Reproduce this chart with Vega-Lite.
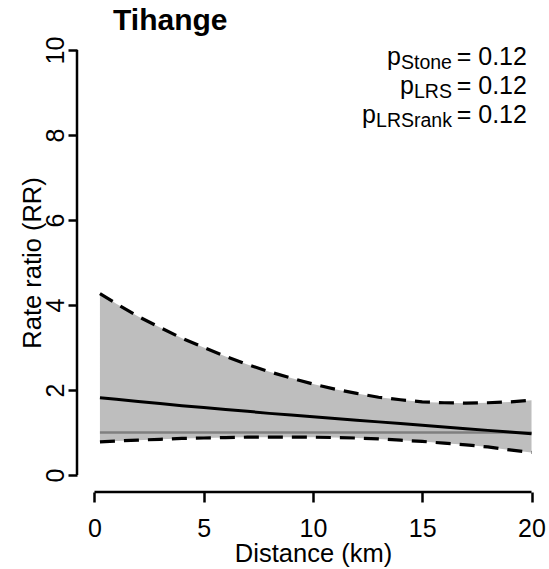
{
  "$schema": "https://vega.github.io/schema/vega-lite/v6.json",
  "width": 472,
  "height": 459,
  "autosize": {"type": "none"},
  "padding": {"left": 77, "top": 33, "right": 0, "bottom": 77},
  "background": "white",
  "config": {
    "view": {"stroke": null},
    "font": "Liberation Sans",
    "axis": {"grid": false}
  },
  "data": {
    "values": [
      {"x": 0.25, "est": 1.82, "lo": 0.78, "hi": 4.27},
      {"x": 1, "est": 1.78, "lo": 0.80, "hi": 4.03},
      {"x": 2, "est": 1.73, "lo": 0.82, "hi": 3.73},
      {"x": 3, "est": 1.68, "lo": 0.84, "hi": 3.47},
      {"x": 4, "est": 1.63, "lo": 0.86, "hi": 3.22},
      {"x": 5, "est": 1.59, "lo": 0.87, "hi": 3.00},
      {"x": 6, "est": 1.54, "lo": 0.88, "hi": 2.79},
      {"x": 7, "est": 1.50, "lo": 0.89, "hi": 2.60},
      {"x": 8, "est": 1.45, "lo": 0.89, "hi": 2.43},
      {"x": 9, "est": 1.41, "lo": 0.89, "hi": 2.28},
      {"x": 10, "est": 1.37, "lo": 0.89, "hi": 2.14},
      {"x": 11, "est": 1.33, "lo": 0.88, "hi": 2.02},
      {"x": 12, "est": 1.29, "lo": 0.87, "hi": 1.92},
      {"x": 13, "est": 1.25, "lo": 0.85, "hi": 1.83},
      {"x": 14, "est": 1.21, "lo": 0.82, "hi": 1.77},
      {"x": 15, "est": 1.17, "lo": 0.79, "hi": 1.72},
      {"x": 16, "est": 1.13, "lo": 0.75, "hi": 1.70},
      {"x": 17, "est": 1.09, "lo": 0.71, "hi": 1.69},
      {"x": 18, "est": 1.05, "lo": 0.66, "hi": 1.70},
      {"x": 19, "est": 1.01, "lo": 0.59, "hi": 1.72},
      {"x": 20, "est": 0.97, "lo": 0.53, "hi": 1.76}
    ]
  },
  "layer": [
    {
      "mark": {"type": "area", "color": "#bebebe", "opacity": 1},
      "encoding": {
        "x": {
          "field": "x",
          "type": "quantitative",
          "scale": {"domain": [-0.8, 20.8], "nice": false, "zero": false},
          "axis": {
            "values": [0, 5, 10, 15, 20],
            "domain": false,
            "tickSize": 10,
            "tickWidth": 2.5,
            "tickColor": "black",
            "labelFontSize": 25,
            "labelColor": "black",
            "labelBaseline": "alphabetic",
            "labelPadding": 34,
            "labelFlush": false,
            "labelOverlap": false,
            "title": "Distance (km)",
            "titleFontSize": 25.5,
            "titleFontWeight": "normal",
            "titleColor": "black",
            "titleAlign": "center",
            "titleBaseline": "alphabetic",
            "titleX": 236,
            "titleY": 69
          }
        },
        "y": {
          "field": "hi",
          "type": "quantitative",
          "scale": {"domain": [-0.4, 10.4], "nice": false, "zero": false},
          "axis": {
            "values": [0, 2, 4, 6, 8, 10],
            "domain": false,
            "tickSize": 9,
            "tickWidth": 2.5,
            "tickColor": "black",
            "labelFontSize": 25,
            "labelColor": "black",
            "labelAngle": 270,
            "labelAlign": "center",
            "labelBaseline": "alphabetic",
            "labelPadding": 5,
            "labelFlush": false,
            "labelOverlap": false,
            "title": "Rate ratio (RR)",
            "titleFontSize": 25.5,
            "titleFontWeight": "normal",
            "titleColor": "black",
            "titleAngle": 270,
            "titleAlign": "center",
            "titleBaseline": "alphabetic",
            "titleX": -37,
            "titleY": 229.5
          }
        },
        "y2": {"field": "lo"}
      }
    },
    {
      "data": {"values": [{}]},
      "mark": {"type": "rule", "color": "#7f7f7f", "strokeWidth": 2.5},
      "encoding": {
        "x": {"datum": 0.25},
        "x2": {"datum": 20},
        "y": {"datum": 1}
      }
    },
    {
      "mark": {"type": "line", "color": "black", "strokeWidth": 3.2, "strokeDash": [15, 9]},
      "encoding": {"x": {"field": "x", "type": "quantitative"}, "y": {"field": "hi", "type": "quantitative"}}
    },
    {
      "mark": {"type": "line", "color": "black", "strokeWidth": 3.2, "strokeDash": [15, 9]},
      "encoding": {"x": {"field": "x", "type": "quantitative"}, "y": {"field": "lo", "type": "quantitative"}}
    },
    {
      "mark": {"type": "line", "color": "black", "strokeWidth": 3},
      "encoding": {"x": {"field": "x", "type": "quantitative"}, "y": {"field": "est", "type": "quantitative"}}
    },
    {
      "data": {"values": [{}]},
      "mark": {"type": "rule", "color": "black", "strokeWidth": 2.5},
      "encoding": {
        "x": {"datum": 0},
        "x2": {"datum": 20},
        "y": {"datum": -0.4}
      }
    },
    {
      "data": {"values": [{}]},
      "mark": {"type": "rule", "color": "black", "strokeWidth": 2.5},
      "encoding": {
        "x": {"datum": -0.8},
        "y": {"datum": 0},
        "y2": {"datum": 10}
      }
    },
    {
      "data": {"values": [{}]},
      "mark": {"type": "text", "text": "Tihange", "align": "left", "baseline": "alphabetic", "fontSize": 30, "fontWeight": "bold", "color": "black"},
      "encoding": {"x": {"datum": 0.85}, "y": {"datum": 10.47}}
    },
    {
      "data": {"values": [{}]},
      "mark": {"type": "text", "text": ["= 0.12", "= 0.12", "= 0.12"], "align": "right", "baseline": "alphabetic", "fontSize": 25, "lineHeight": 29, "color": "black"},
      "encoding": {"x": {"datum": 19.79}, "y": {"datum": 9.65}}
    },
    {
      "data": {"values": [{}]},
      "mark": {"type": "text", "text": ["Stone", "LRS", "LRSrank"], "align": "right", "baseline": "alphabetic", "fontSize": 19.5, "lineHeight": 29, "dx": -75, "dy": 4, "color": "black"},
      "encoding": {"x": {"datum": 19.79}, "y": {"datum": 9.65}}
    },
    {
      "data": {"values": [{}]},
      "mark": {"type": "text", "text": "p", "align": "right", "baseline": "alphabetic", "fontSize": 25, "dx": -126, "color": "black"},
      "encoding": {"x": {"datum": 19.79}, "y": {"datum": 9.65}}
    },
    {
      "data": {"values": [{}]},
      "mark": {"type": "text", "text": "p", "align": "right", "baseline": "alphabetic", "fontSize": 25, "dx": -113, "color": "black"},
      "encoding": {"x": {"datum": 19.79}, "y": {"datum": 8.96}}
    },
    {
      "data": {"values": [{}]},
      "mark": {"type": "text", "text": "p", "align": "right", "baseline": "alphabetic", "fontSize": 25, "dx": -151, "color": "black"},
      "encoding": {"x": {"datum": 19.79}, "y": {"datum": 8.28}}
    }
  ]
}
